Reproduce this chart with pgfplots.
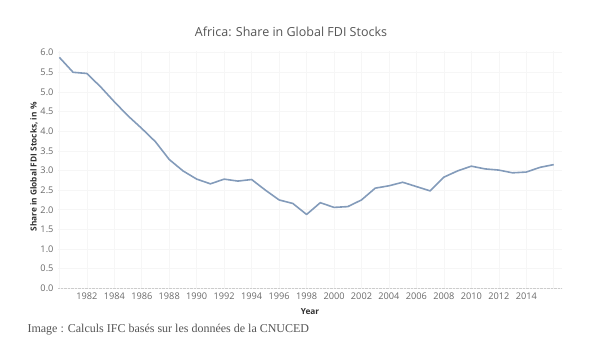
\documentclass[border=0pt]{standalone}
\usepackage{pgfplots}
\pgfplotsset{compat=1.18}
\usepackage{fontspec}
\setmainfont{Open Sans}
\newfontfamily\capfont{Liberation Serif}
\definecolor{linec}{RGB}{131,155,186}
\definecolor{tickc}{RGB}{105,105,105}
\definecolor{titc}{RGB}{85,85,85}
\definecolor{labc}{RGB}{50,50,50}
\definecolor{gridc}{RGB}{246,246,246}
\begin{document}
\begin{tikzpicture}[x=1pt,y=1pt]
\path[use as bounding box] (0,0) rectangle (616,354);
\begin{axis}[
  at={(58pt,65.7pt)}, anchor=south west,
  scale only axis, width=504pt, height=237.6pt,
  xmin=1979.9, xmax=2016.6, ymin=0, ymax=6.05,
  axis x line*=bottom, axis y line*=left,
  x axis line style={-, densely dotted, black!20},
  y axis line style={draw=none},
  major tick length=0pt,
  xtick={1980,1982,...,2016},
  xticklabels={,1982,1984,1986,1988,1990,1992,1994,1996,1998,2000,2002,2004,2006,2008,2010,2012,2014,},
  ytick={0,0.5,...,6.0},
  yticklabel style={/pgf/number format/fixed, /pgf/number format/fixed zerofill, /pgf/number format/precision=1},
  /pgf/number format/assume math mode=true,
  ticklabel style={font=\fontsize{9.2}{10}\selectfont, text=tickc},
  xticklabel style={yshift=-1pt},
  yticklabel style={xshift=-1pt},
  grid=major,
  major grid style={gridc, line width=0.6pt},
  clip=false,
]
\addplot[linec, line width=1.6pt, line join=round] coordinates {
(1980,5.88) (1981,5.50) (1982,5.47) (1983,5.13) (1984,4.75) (1985,4.39)
(1986,4.07) (1987,3.73) (1988,3.28) (1989,2.99) (1990,2.78) (1991,2.66)
(1992,2.78) (1993,2.73) (1994,2.77) (1995,2.50) (1996,2.25) (1997,2.16)
(1998,1.88) (1999,2.18) (2000,2.06) (2001,2.08) (2002,2.25) (2003,2.55)
(2004,2.61) (2005,2.70) (2006,2.59) (2007,2.48) (2008,2.83) (2009,2.99)
(2010,3.11) (2011,3.04) (2012,3.01) (2013,2.94) (2014,2.96) (2015,3.08)
(2016,3.15)
};
\end{axis}
\node[text=titc, font=\fontsize{12.5}{14}\selectfont] at (291,322) {Africa: Share in Global FDI Stocks};
\node[text=labc, font=\bfseries\fontsize{8.3}{9}\selectfont, rotate=90] at (34,187) {Share in Global FDI Stocks, in \%};
\node[text=labc, font=\bfseries\fontsize{8.3}{9}\selectfont] at (310,42) {Year};
\node[text=titc, font=\capfont\fontsize{12}{14}\selectfont, anchor=west] at (24,24) {Image : Calculs IFC basés sur les données de la CNUCED};
\end{tikzpicture}
\end{document}
